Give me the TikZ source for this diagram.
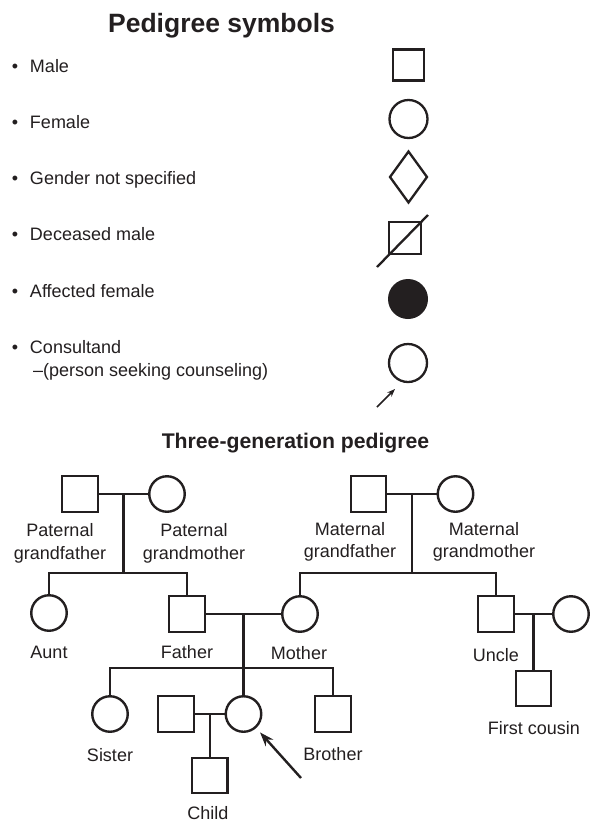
\documentclass[tikz,border=0pt]{standalone}
\usepackage{fontspec}
\setmainfont{Liberation Sans}
\usetikzlibrary{shapes.geometric,arrows.meta,calc}
\definecolor{ink}{HTML}{231F20}

\begin{document}
\begin{tikzpicture}[x=1pt,y=-1pt,
  every node/.style={inner sep=0pt,outer sep=0pt},
  conn/.style={draw=ink,line width=2.4pt},
  headline/.style={text=ink,anchor=base},
  pname/.style={text=ink,font=\fontsize{18}{22.5}\selectfont,align=center},
  legtxt/.style={text=ink,font=\fontsize{18}{22.5}\selectfont,anchor=base west},
  bul/.style={text=ink,font=\fontsize{18}{22.5}\selectfont,anchor=base},
  symb/.style={draw=ink,line width=2.3pt},
  msq/.style={draw=ink,line width=2.4pt,rectangle,minimum size=35.5pt},
  fci/.style={draw=ink,line width=2.4pt,circle,minimum size=35.5pt}]

\fill[white] (0,0) rectangle (591,823);
\useasboundingbox (0,0) rectangle (591,823);

% ---------- legend ----------
\node[headline,font=\bfseries\fontsize{26.5}{31}\selectfont] (t1) at (221.5,32) {Pedigree symbols};

\node[bul] (b1) at (15,72) {•};
\node[legtxt] (l1) at (30,72) {Male};
\node[bul] (b2) at (15,128) {•};
\node[legtxt] (l2) at (30,128) {Female};
\node[bul] (b3) at (15,184) {•};
\node[legtxt] (l3) at (30,184) {Gender not specified};
\node[bul] (b4) at (15,240.5) {•};
\node[legtxt] (l4) at (30,240.5) {Deceased male};
\node[bul] (b5) at (15,297.5) {•};
\node[legtxt] (l5) at (30,297.5) {Affected female};
\node[bul] (b6) at (15,353.5) {•};
\node[legtxt] (l6) at (30,353.5) {Consultand};
\node[legtxt] (l6b) at (33,376.5) {–(person seeking counseling)};

\node[symb,rectangle,minimum size=31pt] (smale) at (408.5,65) {};
\node[symb,circle,minimum size=38pt] (sfemale) at (408.5,119) {};
\node[symb,diamond,minimum width=37pt,minimum height=51pt] (sunk) at (408.5,177) {};
\node[symb,rectangle,minimum size=31.5pt] (sdec) at (405,238) {};
\draw[ink,line width=2.3pt] ($(sdec.center)+(-28,29)$) -- ($(sdec.center)+(23,-23)$);
\node[circle,fill=ink,minimum size=40pt] (saff) at (408,299) {};
\node[symb,circle,minimum size=38pt] (scons) at (408,363) {};
\coordinate (ltail) at (377,407);
\coordinate (ltip) at (395,389);
\draw[ink,line width=1.5pt,-{Stealth[length=8pt,width=6pt]}] (ltail) -- (ltip);

% ---------- three-generation pedigree ----------
\node[headline,font=\bfseries\fontsize{21.2}{26}\selectfont] (t2) at (295.5,448) {Three-generation pedigree};

% generation I
\node[msq] (pgf) at (80,494) {};
\node[fci] (pgm) at (167,494) {};
\node[msq] (mgf) at (368.5,494) {};
\node[fci] (mgm) at (455.5,494) {};
% generation II
\node[fci] (aunt) at (49,613) {};
\node[msq] (father) at (187,614) {};
\node[fci] (mother) at (300,614) {};
\node[msq] (uncle) at (496,614) {};
\node[fci] (auntl) at (571,614) {};
% generation III
\node[fci] (sister) at (110,714) {};
\node[msq] (spouse) at (176,714) {};
\node[fci] (cons) at (243.5,714) {};
\node[msq] (brother) at (333,714) {};
\node[msq] (cousin) at (533.5,688.5) {};
\node[msq] (child) at (209.75,775.5) {};

% paternal side
\draw[conn] (pgf) -- (pgm);
\coordinate (pmar) at ($(pgf.east)!0.5!(pgm.west)$);
\coordinate (pbar) at ($(pmar)+(0,79)$);
\draw[conn] (pmar) -- (pbar);
\draw[conn] (aunt.north) |- (pbar) -| (father.north);

% maternal side
\draw[conn] (mgf) -- (mgm);
\coordinate (mmar) at ($(mgf.east)!0.5!(mgm.west)$);
\coordinate (mbar) at ($(mmar)+(0,79)$);
\draw[conn] (mmar) -- (mbar);
\draw[conn] (mother.north) |- (mbar) -| (uncle.north);

% parents and siblings
\draw[conn] (father) -- (mother);
\coordinate (fmar) at ($(father.east)!0.5!(mother.west)$);
\coordinate (sbar) at ($(fmar)+(0,54)$);
\draw[conn] (fmar) -- (cons.north);
\draw[conn] (sister.north) |- (sbar) -| (brother.north);

% consultand's family
\draw[conn] (spouse) -- (cons);
\coordinate (cmar) at ($(spouse.east)!0.5!(cons.west)$);
\draw[conn] (cmar) -- (child.north);

% uncle's family
\draw[conn] (uncle) -- (auntl);
\coordinate (umar) at ($(uncle.east)!0.5!(auntl.west)$);
\draw[conn] (umar) -- (cousin.north);

% pointer to the consultand
\coordinate (ptail) at (301,778);
\draw[conn,shorten >=7pt,-{Stealth[length=14pt,width=10pt]}] (ptail) -- (cons);

% names
\node[pname] (lpgf) at (60,543.5) {Paternal\\grandfather};
\node[pname] (lpgm) at (194,543.5) {Paternal\\grandmother};
\node[pname] (lmgf) at (350,542) {Maternal\\grandfather};
\node[pname] (lmgm) at (484,542) {Maternal\\grandmother};
\node[pname,anchor=base] (launt) at (49,658.5) {Aunt};
\node[pname,anchor=base] (lfather) at (187,658.5) {Father};
\node[pname,anchor=base] (lmother) at (299,659.5) {Mother};
\node[pname,anchor=base] (luncle) at (496,661.5) {Uncle};
\node[pname,anchor=base] (lsister) at (110,761.5) {Sister};
\node[pname,anchor=base] (lbrother) at (333,760.5) {Brother};
\node[pname,anchor=base] (lchild) at (208,819.5) {Child};
\node[pname,anchor=base] (lcousin) at (534,734.5) {First cousin};
\end{tikzpicture}
\end{document}
